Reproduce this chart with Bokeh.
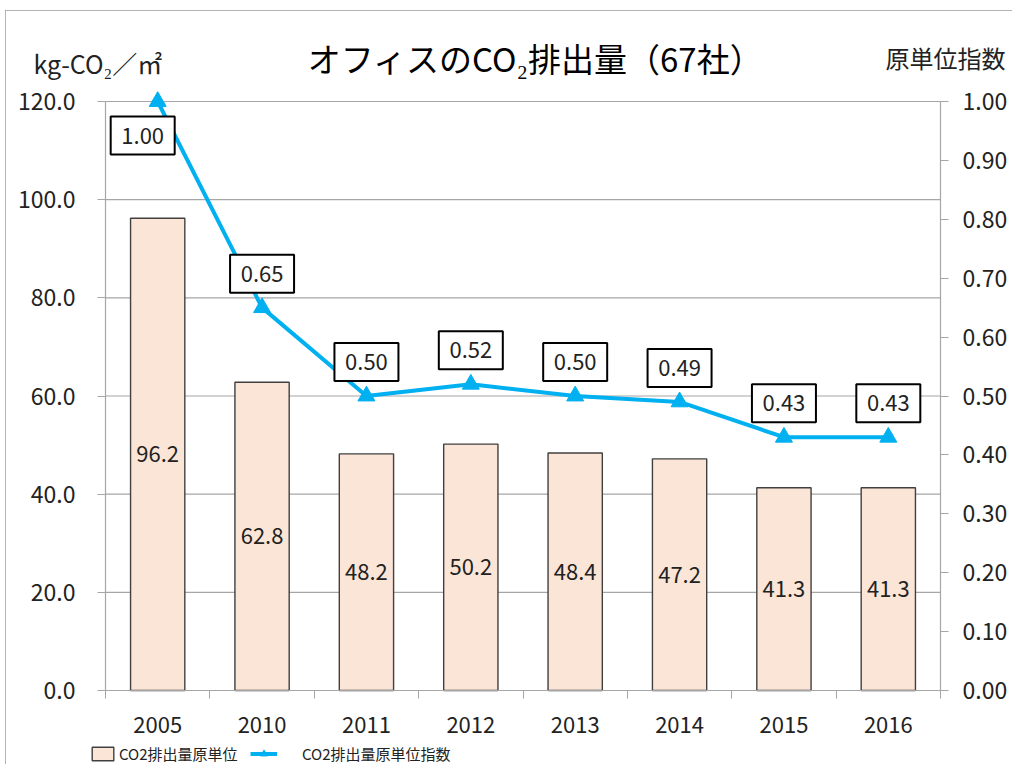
from bokeh.plotting import figure
from bokeh.models import (ColumnDataSource, Range1d, LinearAxis, FixedTicker,
                          Legend, LegendItem, NumeralTickFormatter, Span)
from bokeh.core.properties import value
from bokeh.embed import file_html
from bokeh.resources import INLINE

# ---- data ----
years = ["2005", "2010", "2011", "2012", "2013", "2014", "2015", "2016"]
intensity = [96.2, 62.8, 48.2, 50.2, 48.4, 47.2, 41.3, 41.3]
index_vals = [1.00, 0.65, 0.50, 0.52, 0.50, 0.49, 0.43, 0.43]
left_ticks = [0, 20, 40, 60, 80, 100, 120]
right_ticks = [0.0, 0.1, 0.2, 0.3, 0.4, 0.5, 0.6, 0.7, 0.8, 0.9, 1.0]
title_text = "オフィスのCO₂排出量（67社）"
left_unit = "kg-CO₂／㎡"
right_unit = "原単位指数"
bar_name = "CO2排出量原単位"
line_name = "CO2排出量原単位指数"

# ---- style ----
FONT = "Noto Sans CJK JP"
BLUE = "#00B0F0"
BAR_FILL = "#FBE5D6"
BAR_LINE = "#404040"
GRID = "#A6A6A6"
BORDER = "#B4B4B4"
TXT = "#222222"

LEFT_MAX = left_ticks[-1]
RIGHT_MAX = right_ticks[-1]
n = len(years)

# ---- layout (page pixels) ----
W, H = 1012, 764
FX0, FY0 = 4, 9                 # frame top-left
PX_L, PX_R = 105, 940           # plot area left/right
PY_T, PY_B = 101, 690           # plot area top (max) / bottom (0)

ux = (PX_R - PX_L) / n
uy = (PY_B - PY_T) / LEFT_MAX
ry = (PY_B - PY_T) / RIGHT_MAX

def px(xp):
    return -0.5 + (xp - PX_L) / ux

def py(yp):
    return (PY_B - yp) / uy

xs = list(range(n))
p = figure(width=W, height=H, output_backend="svg", toolbar_location=None,
           x_range=Range1d(px(FX0), px(W)),
           y_range=Range1d(py(H), py(FY0)),
           min_border_left=FX0, min_border_top=FY0,
           min_border_right=0, min_border_bottom=0)
p.extra_y_ranges = {"right": Range1d((PY_B - H) / ry, (PY_B - FY0) / ry)}
p.outline_line_color = None
p.grid.visible = False

# chart-area border (top and left)
p.add_layout(Span(location=px(5), dimension="height", line_color=BORDER, line_width=1))
p.add_layout(Span(location=py(10), dimension="width", line_color=BORDER, line_width=1))

# horizontal grid lines at the left-axis ticks
p.segment(x0=[-0.5] * len(left_ticks), x1=[n - 0.5] * len(left_ticks),
          y0=left_ticks, y1=left_ticks, line_color=GRID, line_width=1.2)

# left axis
ya = p.yaxis[0]
ya.fixed_location = -0.5
ya.ticker = FixedTicker(ticks=left_ticks)
ya.formatter = NumeralTickFormatter(format="0.0")
ya.bounds = (0, LEFT_MAX)
ya.axis_line_color = GRID
ya.axis_line_width = 1.2
ya.major_tick_line_color = GRID
ya.major_tick_out = 8
ya.major_tick_in = 0
ya.minor_tick_line_color = None
ya.major_label_standoff = 22
ya.major_label_text_font = FONT
ya.major_label_text_font_size = "23px"
ya.major_label_text_color = TXT

# right axis
ra = LinearAxis(y_range_name="right", ticker=FixedTicker(ticks=right_ticks),
                formatter=NumeralTickFormatter(format="0.00"), bounds=(0, RIGHT_MAX),
                fixed_location=n - 0.5)
ra.axis_line_color = GRID
ra.axis_line_width = 1.2
ra.major_tick_line_color = GRID
ra.major_tick_out = 8
ra.major_tick_in = 0
ra.minor_tick_line_color = None
ra.major_label_standoff = 14
ra.major_label_text_font = FONT
ra.major_label_text_font_size = "23px"
ra.major_label_text_color = TXT
p.add_layout(ra, "right")

# x axis
xa = p.xaxis[0]
xa.fixed_location = 0
xa.bounds = (-0.5, n - 0.5)
xa.ticker = FixedTicker(ticks=xs, minor_ticks=[i - 0.5 for i in range(n + 1)])
xa.major_label_overrides = {i: y for i, y in enumerate(years)}
xa.axis_line_color = GRID
xa.axis_line_width = 1.2
xa.major_tick_line_color = None
xa.minor_tick_line_color = GRID
xa.minor_tick_out = 8
xa.minor_tick_in = 0
xa.major_label_standoff = 18
xa.major_label_text_font = FONT
xa.major_label_text_font_size = "22px"
xa.major_label_text_color = TXT

# bars
bsrc = ColumnDataSource(dict(x=xs, v=intensity, mid=[v / 2 for v in intensity],
                             t=["%.1f" % v for v in intensity]))
bars = p.vbar(x="x", top="v", width=0.52, source=bsrc, fill_color=BAR_FILL,
              line_color=BAR_LINE, line_width=1.4)
p.text(x="x", y="mid", text="t", source=bsrc, text_align="center",
       text_baseline="middle", text_font=value(FONT), text_font_size="22px",
       text_color=TXT)

# index line with boxed labels
raise_u = 34 / ry
shift_u = 15 / ux
lx, ly = [], []
for i, v in zip(xs, index_vals):
    if v + 2 * raise_u > RIGHT_MAX:
        lx.append(i - shift_u)
        ly.append(v - raise_u)
    else:
        lx.append(i)
        ly.append(v + raise_u)
lsrc = ColumnDataSource(dict(x=xs, v=index_vals, lx=lx, ly=ly,
                             t=["%.2f" % v for v in index_vals]))
line = p.line(x="x", y="v", source=lsrc, y_range_name="right", line_color=BLUE,
              line_width=4)
marks = p.scatter(x="x", y="v", source=lsrc, y_range_name="right", marker="triangle",
                  size=17, fill_color=BLUE, line_color=BLUE)
p.rect(x="lx", y="ly", width=64, height=38, width_units="screen", height_units="screen",
       source=lsrc, y_range_name="right", fill_color="white", line_color="black",
       line_width=2)
p.text(x="lx", y="ly", text="t", source=lsrc, y_range_name="right",
       text_align="center", text_baseline="middle", text_font=value(FONT),
       text_font_size="22px", text_color=TXT)

# title and unit labels
p.text(x=[px(535)], y=[py(57)], text=[title_text], text_align="center",
       text_baseline="middle", text_font=value(FONT), text_font_size="33px",
       text_color="black")
p.text(x=[px(33)], y=[py(62)], text=[left_unit], text_align="left",
       text_baseline="middle", text_font=value(FONT), text_font_size="25px",
       text_color=TXT)
p.text(x=[px(1005)], y=[py(57)], text=[right_unit], text_align="right",
       text_baseline="middle", text_font=value(FONT), text_font_size="24px",
       text_color=TXT)

# legends
def mk_legend(items, loc, standoff):
    return Legend(items=items, location=loc, orientation="horizontal",
                  glyph_width=27, glyph_height=17, label_standoff=standoff,
                  padding=0, margin=0, spacing=0, border_line_color=None,
                  background_fill_alpha=0, label_text_font=FONT,
                  label_text_font_size="15px", label_height=22,
                  label_text_color=TXT)

p.add_layout(mk_legend([LegendItem(label=bar_name, renderers=[bars])],
                       (89 - FX0, H - 764), 3))
p.add_layout(mk_legend([LegendItem(label=line_name, renderers=[line, marks])],
                       (250 - FX0, H - 764), 25))

open("out.html", "w").write(file_html(p, INLINE))
